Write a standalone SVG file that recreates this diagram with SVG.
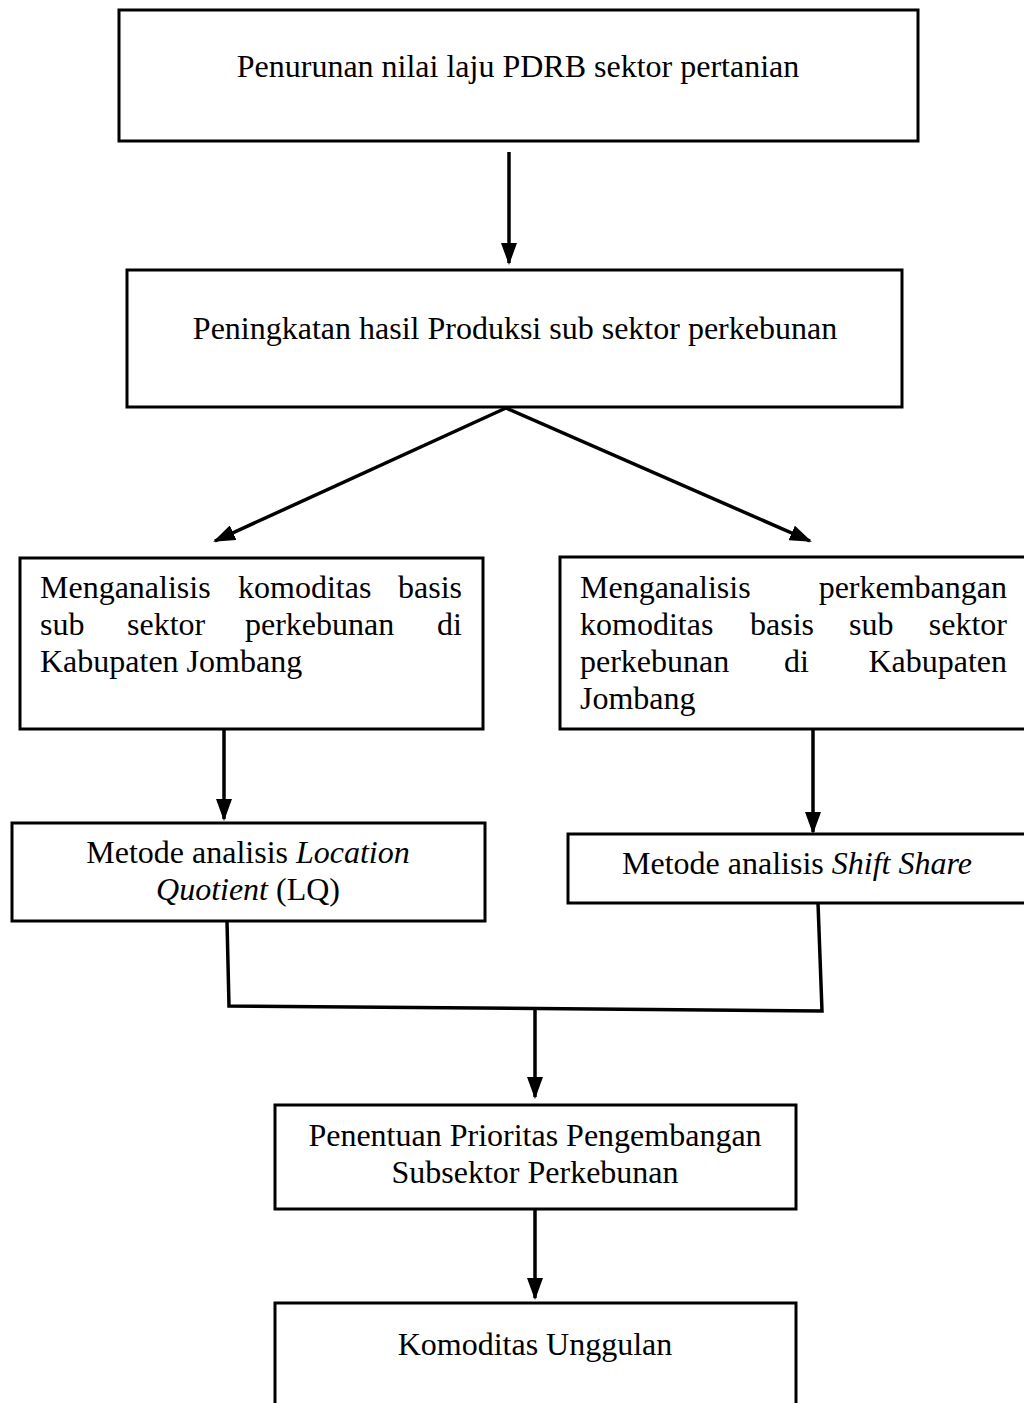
<svg xmlns="http://www.w3.org/2000/svg" width="1024" height="1403" viewBox="0 0 1024 1403">
<style>
  .box { fill: #ffffff; stroke: #000000; stroke-width: 3; }
  .t { font-family: "Liberation Serif", "Times New Roman", serif; font-size: 32px; fill: #000000; }
  .c { text-anchor: middle; }
  .e { text-anchor: end; }
  .i { font-style: italic; }
  .conn { fill: none; stroke: #000000; stroke-width: 3.5; }
</style>
<defs>
  <marker id="arrow" markerUnits="userSpaceOnUse" markerWidth="22" markerHeight="16" refX="20" refY="8" orient="auto" viewBox="0 0 22 16">
    <path d="M0,0 L22,8 L0,16 Z" fill="#000000"/>
  </marker>
</defs>
<rect width="1024" height="1403" fill="#ffffff"/>

<g id="connectors">
  <line class="conn" x1="509" y1="152" x2="509" y2="263" marker-end="url(#arrow)"/>
  <line class="conn" x1="506" y1="408" x2="215" y2="541" stroke-width="4.5" marker-end="url(#arrow)"/>
  <line class="conn" x1="506" y1="408" x2="810" y2="541" stroke-width="4.5" marker-end="url(#arrow)"/>
  <line class="conn" x1="224" y1="730" x2="224" y2="819" marker-end="url(#arrow)"/>
  <line class="conn" x1="813" y1="730" x2="813" y2="832" marker-end="url(#arrow)"/>
  <polyline class="conn" points="227,921 229,1006 822,1011 818,903"/>
  <line class="conn" x1="535" y1="1009" x2="535" y2="1097" marker-end="url(#arrow)"/>
  <line class="conn" x1="535" y1="1209" x2="535" y2="1298" stroke-width="4.5" marker-end="url(#arrow)"/>
</g>

<g id="node1">
  <rect class="box" x="119" y="10" width="799" height="131"/>
  <text class="t c" x="518" y="77">Penurunan nilai laju PDRB sektor pertanian</text>
</g>

<g id="node2">
  <rect class="box" x="127" y="270" width="775" height="137"/>
  <text class="t c" x="515" y="339">Peningkatan hasil Produksi sub sektor perkebunan</text>
</g>

<g id="node3">
  <rect class="box" x="20" y="558" width="463" height="171"/>
  <text class="t" x="40" y="598">Menganalisis</text>
  <text class="t" x="238" y="598">komoditas</text>
  <text class="t e" x="462" y="598">basis</text>
  <text class="t" x="40" y="635">sub</text>
  <text class="t" x="127" y="635">sektor</text>
  <text class="t" x="245" y="635">perkebunan</text>
  <text class="t e" x="462" y="635">di</text>
  <text class="t" x="40" y="672">Kabupaten Jombang</text>
</g>

<g id="node4">
  <rect class="box" x="560" y="557" width="480" height="172"/>
  <text class="t" x="580" y="598">Menganalisis</text>
  <text class="t e" x="1007" y="598">perkembangan</text>
  <text class="t" x="580" y="635">komoditas</text>
  <text class="t" x="750" y="635">basis</text>
  <text class="t" x="849" y="635">sub</text>
  <text class="t e" x="1007" y="635">sektor</text>
  <text class="t" x="580" y="672">perkebunan</text>
  <text class="t" x="784" y="672">di</text>
  <text class="t e" x="1007" y="672">Kabupaten</text>
  <text class="t" x="580" y="709">Jombang</text>
</g>

<g id="node5">
  <rect class="box" x="12" y="823" width="473" height="98"/>
  <text class="t c" x="248" y="863">Metode analisis <tspan class="i">Location</tspan></text>
  <text class="t c" x="248" y="900"><tspan class="i">Quotient</tspan> (LQ)</text>
</g>

<g id="node6">
  <rect class="box" x="568" y="834" width="472" height="69"/>
  <text class="t c" x="797" y="874">Metode analisis <tspan class="i">Shift Share</tspan></text>
</g>

<g id="node7">
  <rect class="box" x="275" y="1105" width="521" height="104"/>
  <text class="t c" x="535" y="1146">Penentuan Prioritas Pengembangan</text>
  <text class="t c" x="535" y="1183">Subsektor Perkebunan</text>
</g>

<g id="node8">
  <rect class="box" x="275" y="1303" width="521" height="120"/>
  <text class="t c" x="535" y="1355">Komoditas Unggulan</text>
</g>
</svg>
